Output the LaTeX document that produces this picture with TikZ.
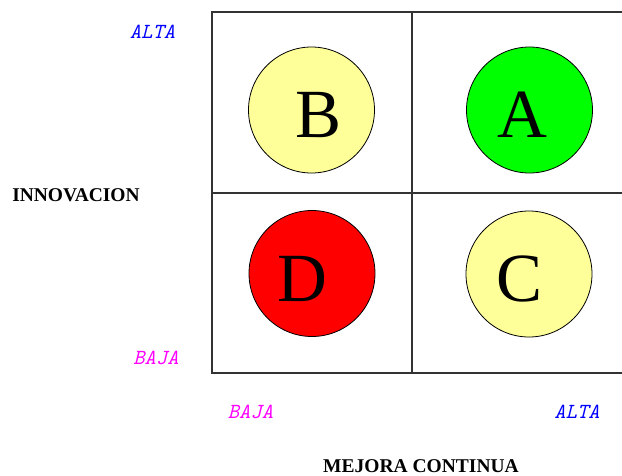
\documentclass[tikz,border=0pt]{standalone}
\usepackage{fontspec}
\setmainfont{Liberation Serif}
\definecolor{cyellow}{HTML}{FFFF99}
\definecolor{cgreen}{HTML}{00FF00}
\definecolor{cred}{HTML}{FF0000}
\definecolor{lblue}{HTML}{0000FF}
\definecolor{lmag}{HTML}{FF00FF}
\definecolor{gridc}{HTML}{333333}
\tikzset{
  gridline/.style={draw=gridc, line width=1.6pt},
  ball/.style={circle, draw=black, line width=0.8pt, minimum size=126pt, inner sep=0pt},
  letter/.style={inner sep=0pt, font=\fontsize{69}{69}\selectfont},
  axislab/.style={inner sep=0pt, anchor=base, font=\fontsize{19.5}{20}\selectfont\bfseries},
  levlab/.style={inner sep=0pt, anchor=base, font=\ttfamily\itshape\fontsize{21.5}{22}\selectfont}
}
\begin{document}
\begin{tikzpicture}[x=1pt,y=-1pt]
\useasboundingbox (0,0) rectangle (622,475);
% grid
\draw[gridline] (622,12) -- (212,12) -- (212,373) -- (622,373);
\draw[gridline] (212,193) -- (622,193);
\draw[gridline] (412,12) -- (412,373);
% circles
\node[ball, fill=cyellow] (cb) at (311.5,110) {};
\node[ball, fill=cgreen] (ca) at (529.5,110) {};
\node[ball, fill=cred] (cd) at (312,273.5) {};
\node[ball, fill=cyellow] (cc) at (529,274) {};
% letters
\node[letter] (lb) at (318.5,115.5) {B};
\node[letter] (la) at (522.5,115) {A};
\node[letter] (ld) at (302.5,279) {D};
\node[letter] (lc) at (520,279) {C};
% axis labels
\node[axislab] (innov) at (76,201.5) {INNOVACION};
\node[axislab] (mejora) at (421,472) {MEJORA CONTINUA};
% level labels
\node[levlab, text=lblue] (altay) at (152.5,38) {ALTA};
\node[levlab, text=lmag] (bajay) at (156,364) {BAJA};
\node[levlab, text=lmag] (bajax) at (250.5,418) {BAJA};
\node[levlab, text=lblue] (altax) at (577,418) {ALTA};
\end{tikzpicture}
\end{document}
